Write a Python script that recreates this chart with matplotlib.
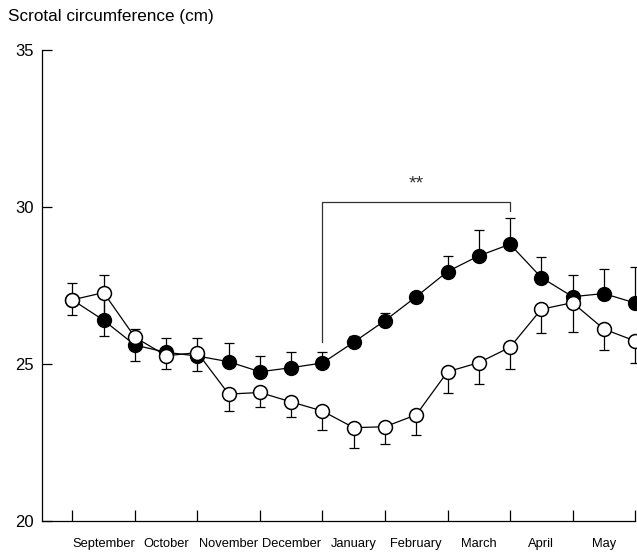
import matplotlib
matplotlib.use("Agg")
import matplotlib.pyplot as plt
import numpy as np

plt.rcParams['font.family'] = ['Liberation Sans', 'DejaVu Sans']

months = ["September", "October", "November", "December", "January",
          "February", "March", "April", "May"]

# Filled circles (upper SE bars)
black_mean = [27.04, 26.39, 25.60, 25.37, 25.25, 25.07, 24.75, 24.88, 25.03, 25.69,
              26.38, 27.14, 27.94, 28.44, 28.81, 27.75, 27.14, 27.24, 26.94]
black_se = [0.53, 1.44, 0.50, 0.47, 0.59, 0.58, 0.51, 0.51, 0.34, 0.20,
            0.25, 0.10, 0.48, 0.82, 0.82, 0.64, 0.70, 0.77, 1.16]
# Open circles (lower SE bars)
open_mean = [27.04, 27.27, 25.85, 25.26, 25.36, 24.04, 24.09, 23.79, 23.50, 22.97,
             23.00, 23.38, 24.75, 25.04, 25.53, 26.74, 26.95, 26.11, 25.73]
open_se = [0.48, 1.37, 0.75, 0.42, 0.58, 0.53, 0.47, 0.47, 0.60, 0.65,
           0.56, 0.64, 0.68, 0.69, 0.68, 0.75, 0.93, 0.67, 0.71]

bracket_start, bracket_end = 8, 14
bracket_y, bracket_left_low, bracket_right_low = 30.15, 25.71, 29.87
sig_label = "**"
sig_y = 30.72

fig = plt.figure(figsize=(6.37, 5.55), dpi=100)
ax = fig.add_axes([0.0655, 0.0613, 0.9315, 0.849])

x = np.arange(len(black_mean))
zero = np.zeros(len(x))

ax.errorbar(x, black_mean, yerr=[zero, black_se], fmt='none', ecolor='black',
            elinewidth=0.9, capsize=3.5, capthick=0.9, zorder=2, clip_on=False)
ax.errorbar(x, open_mean, yerr=[open_se, zero], fmt='none', ecolor='black',
            elinewidth=0.9, capsize=3.5, capthick=0.9, zorder=2, clip_on=False)
ax.plot(x, black_mean, '-', color='black', lw=0.9, marker='o', markersize=10,
        markerfacecolor='black', markeredgecolor='black', zorder=3, clip_on=False)
ax.plot(x, open_mean, '-', color='black', lw=0.9, marker='o', markersize=10,
        markerfacecolor='white', markeredgecolor='black', markeredgewidth=1.1,
        zorder=4, clip_on=False)

# significance bracket
ax.plot([bracket_start, bracket_start, bracket_end, bracket_end],
        [bracket_left_low, bracket_y, bracket_y, bracket_right_low],
        color='#333333', lw=0.9, zorder=1)
ax.text((bracket_start + bracket_end) / 2, sig_y, sig_label,
        ha='center', va='center', fontsize=14, color='#333333')

ax.set_xlim(-0.98, 18.0)
ax.set_ylim(20, 35)
ax.set_yticks([20, 25, 30, 35])
ax.set_xticks(np.arange(0, 19, 2))
ax.set_xticklabels([])
ax.set_xticks(np.arange(1, 18, 2), minor=True)
ax.set_xticklabels(months, minor=True, fontsize=9.3)
ax.tick_params(axis='x', which='major', direction='in', length=8, width=0.9)
ax.tick_params(axis='x', which='minor', length=0, pad=12.5)
ax.tick_params(axis='y', direction='in', length=7.5, width=0.9, labelsize=12, pad=6)

for s in ['top', 'right']:
    ax.spines[s].set_visible(False)
for s in ['left', 'bottom']:
    ax.spines[s].set_linewidth(0.9)

fig.text(8 / 637, 1 - 17 / 555, "Scrotal circumference (cm)", ha='left', va='center',
         fontsize=12.3)

fig.savefig("out.png", dpi=100)
